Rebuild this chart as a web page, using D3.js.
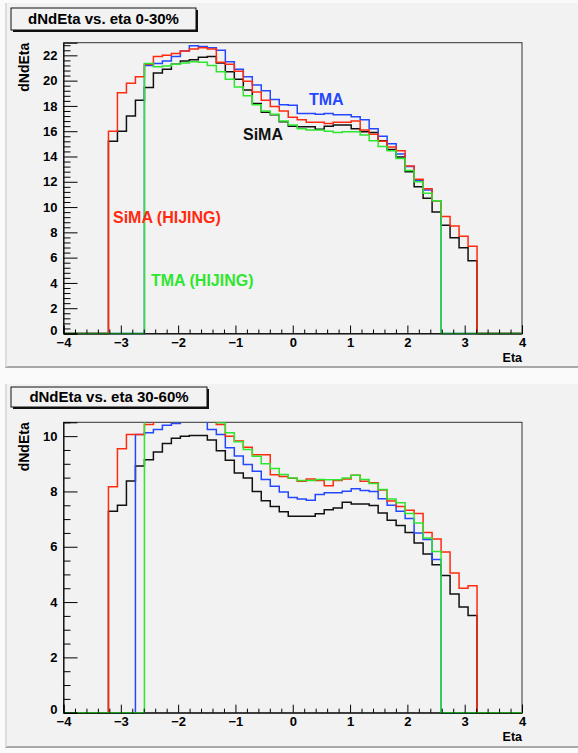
<!DOCTYPE html>
<html>
<head>
<meta charset="utf-8">
<script src="https://cdn.jsdelivr.net/npm/d3@7"></script>
<style>
  body { margin: 0; background: #fafafa; }
  svg { display: block; font-family: "Liberation Sans", Arial, sans-serif; }
</style>
</head>
<body>
<svg id="chart" width="578" height="753"></svg>
<script>
// histogram binning: 51 bins over eta -4..4, bin k = -25..25 (k = 0 is centred on eta 0)
const etaRange = [-4, 4];
const nBins = 51;

// tick labels
const xTicks = [-4, -3, -2, -1, 0, 1, 2, 3, 4];
const topYTicks = [0, 2, 4, 6, 8, 10, 12, 14, 16, 18, 20, 22];
const botYTicks = [0, 2, 4, 6, 8, 10];

// series names
const seriesNames = ["SiMA", "TMA", "SiMA (HIJING)", "TMA (HIJING)"];

// ---- centrality 0-30% ----
// SiMA, bins k = -20..20
const top_sima = [15.2, 16.0, 17.2, 18.45, 19.45, 20.6, 20.9, 21.3, 21.55, 21.65, 21.85, 21.9, 21.4, 20.7, 20.1, 19.25, 18.2, 17.5, 17.3, 16.75,
  16.4, 16.35, 16.35, 16.15, 16.4, 16.5, 16.5, 16.2, 15.95, 15.9, 15.25, 14.55, 13.95, 12.8, 11.6, 10.7, 9.6, 8.57, 7.57, 6.78, 5.75];
// TMA, bins k = -16..16
const top_tma = [21.2, 21.35, 21.55, 21.9, 22.35, 22.75, 22.7, 22.6, 22.4, 21.5, 20.9, 20.3, 19.65, 19.2, 18.5, 18.1,
  18.05, 17.4, 17.4, 17.35, 17.4, 17.3, 17.3, 17.15, 16.9, 16.2, 15.6, 15.0, 14.2, 13.2, 12.1, 11.35, 10.5];
// SiMA (HIJING), bins k = -20..20
const top_sima_hijing = [16.0, 19.05, 19.8, 20.3, 21.3, 21.9, 22.0, 22.15, 22.35, 22.5, 22.6, 22.5, 21.45, 21.3, 20.75, 19.95, 19.1, 18.45, 17.95, 17.6,
  17.1, 16.9, 16.7, 16.7, 16.6, 16.7, 16.7, 16.8, 16.1, 15.75, 15.2, 14.75, 14.45, 13.25, 12.2, 11.45, 10.5, 9.25, 8.5, 7.7, 6.9];
// TMA (HIJING), bins k = -16..16
const top_tma_hijing = [21.35, 21.1, 21.15, 21.3, 21.4, 21.5, 21.45, 21.2, 20.7, 20.1, 19.5, 18.8, 18.1, 17.6, 17.35, 16.8,
  16.5, 16.2, 16.1, 16.1, 16.0, 15.9, 15.95, 15.95, 15.7, 15.25, 14.8, 14.45, 13.85, 12.9, 12.0, 11.1, 10.5];

// ---- centrality 30-60% ----
// SiMA, bins k = -20..20
const bot_sima = [7.28, 7.5, 8.38, 8.92, 9.15, 9.43, 9.73, 9.92, 10.0, 10.02, 10.02, 9.86, 9.47, 9.13, 8.67, 8.49, 8.0, 7.66, 7.46, 7.27,
  7.1, 7.1, 7.1, 7.19, 7.34, 7.4, 7.61, 7.55, 7.55, 7.49, 7.22, 6.96, 6.77, 6.52, 6.14, 5.74, 5.35, 4.96, 4.29, 3.82, 3.51];
// TMA, bins k = -17..16
const bot_tma = [10.06, 10.12, 10.24, 10.39, 10.46, 10.6, 10.7, 10.6, 10.24, 10.06, 9.58, 9.28, 8.97, 8.73, 8.43, 8.19, 7.98,
  7.78, 7.73, 7.68, 7.89, 7.95, 7.95, 8.01, 8.1, 8.03, 8.0, 7.74, 7.5, 7.28, 7.02, 6.5, 6.26, 5.54];
// SiMA (HIJING), bins k = -20..20
const bot_sima_hijing = [8.17, 9.54, 10.06, 10.06, 10.42, 10.6, 10.7, 10.8, 10.8, 10.8, 10.7, 10.6, 10.42, 10.0, 9.82, 9.6, 9.33, 9.33, 8.6, 8.54,
  8.48, 8.37, 8.45, 8.4, 8.21, 8.4, 8.45, 8.59, 8.37, 8.31, 8.05, 7.65, 7.46, 7.32, 7.2, 6.52, 6.28, 5.81, 5.05, 4.5, 4.59];
// TMA (HIJING), bins k = -16..16
const bot_tma_hijing = [10.7, 10.8, 10.9, 10.9, 10.9, 10.8, 10.7, 10.6, 10.48, 10.12, 9.8, 9.52, 9.27, 9.0, 8.83, 8.61,
  8.49, 8.4, 8.4, 8.43, 8.42, 8.42, 8.49, 8.59, 8.43, 8.29, 8.07, 7.73, 7.59, 7.2, 6.86, 6.32, 5.83];

const colors = { "SiMA": "#111111", "TMA": "#2448ff", "SiMA (HIJING)": "#ff2a10", "TMA (HIJING)": "#2ee62e" };

const svg = d3.select("#chart");
const frameLeft = 63.5, frameRight = 522;

const panels = [
  {
    id: "top", title: "dNdEta vs. eta 0-30%", pad: [5, 3, 573, 364], box: [11, 8, 185, 22],
    frameTop: 42.7, frameBottom: 333.5, yMax: 23, yTicks: topYTicks, yMinorStep: 0.4,
    series: [
      { name: "SiMA", first: -20, values: top_sima },
      { name: "TMA", first: -16, values: top_tma },
      { name: "SiMA (HIJING)", first: -20, values: top_sima_hijing },
      { name: "TMA (HIJING)", first: -16, values: top_tma_hijing }
    ],
    labels: [
      { name: "TMA", x: 309, y: 105 },
      { name: "SiMA", x: 243, y: 140 },
      { name: "SiMA (HIJING)", x: 113, y: 223 },
      { name: "TMA (HIJING)", x: 151, y: 286 }
    ]
  },
  {
    id: "bot", title: "dNdEta vs. eta 30-60%", pad: [5, 384, 573, 363], box: [11, 387, 196, 20],
    frameTop: 422.3, frameBottom: 712.7, yMax: 10.5, yTicks: botYTicks, yMinorStep: 0.5,
    series: [
      { name: "SiMA", first: -20, values: bot_sima },
      { name: "TMA", first: -17, values: bot_tma },
      { name: "SiMA (HIJING)", first: -20, values: bot_sima_hijing },
      { name: "TMA (HIJING)", first: -16, values: bot_tma_hijing }
    ],
    labels: []
  }
];

const binWidth = (etaRange[1] - etaRange[0]) / nBins;

panels.forEach(p => {
  const g = svg.append("g");

  // pad
  g.append("rect").attr("x", p.pad[0]).attr("y", p.pad[1]).attr("width", p.pad[2]).attr("height", p.pad[3])
    .attr("fill", "#f2f2f2");
  g.append("line").attr("x1", p.pad[0]).attr("x2", p.pad[0] + p.pad[2]).attr("y1", p.pad[1] + p.pad[3]).attr("y2", p.pad[1] + p.pad[3])
    .attr("stroke", "#a8a8a8").attr("stroke-width", 2);
  g.append("line").attr("x1", p.pad[0] + 1).attr("x2", p.pad[0] + 1).attr("y1", p.pad[1]).attr("y2", p.pad[1] + p.pad[3])
    .attr("stroke", "#dcdcdc").attr("stroke-width", 2);

  const x = d3.scaleLinear().domain(etaRange).range([frameLeft, frameRight]);
  const y = d3.scaleLinear().domain([0, p.yMax]).range([p.frameBottom, p.frameTop]);

  // frame
  g.append("rect").attr("x", frameLeft).attr("y", p.frameTop)
    .attr("width", frameRight - frameLeft).attr("height", p.frameBottom - p.frameTop)
    .attr("fill", "none").attr("stroke", "#333").attr("stroke-width", 1);

  // histograms, clipped to the frame
  const clipId = "clip-" + p.id;
  svg.append("clipPath").attr("id", clipId).append("rect")
    .attr("x", frameLeft - 1).attr("y", p.frameTop).attr("width", frameRight - frameLeft + 2).attr("height", p.frameBottom - p.frameTop + 2);

  const line = d3.line().x(d => x(d[0])).y(d => y(d[1])).curve(d3.curveStepAfter);
  p.series.forEach(s => {
    const pts = [];
    for (let i = 0; i < nBins; i++) {
      const k = i - 25;
      const j = k - s.first;
      const v = (j >= 0 && j < s.values.length) ? s.values[j] : 0;
      pts.push([etaRange[0] + i * binWidth, v]);
    }
    pts.push([etaRange[1], pts[pts.length - 1][1]]);
    g.append("path").datum(pts)
      .attr("clip-path", `url(#${clipId})`)
      .attr("fill", "none")
      .attr("stroke", colors[s.name])
      .attr("stroke-width", 1.5)
      .attr("d", line);
  });

  // y axis
  const yMinor = d3.range(0, p.yMax + 1e-6, p.yMinorStep).filter(v => Math.abs(v / 2 - Math.round(v / 2)) > 1e-6);
  g.append("g").attr("transform", `translate(${frameLeft},0)`)
    .call(d3.axisLeft(y).tickValues(yMinor).tickSize(-7).tickFormat(""))
    .call(a => a.select(".domain").remove());
  const yAx = g.append("g").attr("transform", `translate(${frameLeft},0)`)
    .call(d3.axisLeft(y).tickValues(p.yTicks).tickSize(-14).tickPadding(6).tickFormat(d3.format("d")));
  yAx.select(".domain").attr("stroke", "#000");
  yAx.selectAll("text").style("font-size", "13px").style("font-weight", "bold").attr("fill", "#000");
  // keep the "0" label clear of the "-4" label below it
  yAx.selectAll("text").filter(d => d === 0).attr("dy", "0.05em");

  // x axis
  const xMinor = d3.range(-4, 4.0001, 0.2).filter(v => Math.abs(v - Math.round(v)) > 1e-6);
  g.append("g").attr("transform", `translate(0,${p.frameBottom})`)
    .call(d3.axisBottom(x).tickValues(xMinor).tickSize(-4).tickFormat(""))
    .call(a => a.select(".domain").remove());
  const xAx = g.append("g").attr("transform", `translate(0,${p.frameBottom})`)
    .call(d3.axisBottom(x).tickValues(xTicks).tickSize(-8).tickPadding(4).tickFormat(d3.format("d")));
  xAx.select(".domain").attr("stroke", "#000");
  xAx.selectAll("text").style("font-size", "13px").style("font-weight", "bold").attr("fill", "#000");

  // axis titles
  g.append("text").attr("x", frameRight).attr("y", p.frameBottom + 28)
    .attr("text-anchor", "end").style("font-size", "12.5px").style("font-weight", "bold").text("Eta");
  g.append("text").attr("transform", `translate(29,${p.frameTop}) rotate(-90)`)
    .attr("text-anchor", "end").style("font-size", "14px").style("font-weight", "bold").text("dNdEta");

  // title box
  const b = p.box;
  g.append("rect").attr("x", b[0] + 2).attr("y", b[1] + 2).attr("width", b[2]).attr("height", b[3]).attr("fill", "#111");
  g.append("rect").attr("x", b[0]).attr("y", b[1]).attr("width", b[2]).attr("height", b[3])
    .attr("fill", "#f2f2f2").attr("stroke", "#111").attr("stroke-width", 1);
  g.append("text").attr("x", b[0] + b[2] / 2).attr("y", b[1] + b[3] / 2 + 5)
    .attr("text-anchor", "middle").style("font-size", "15px").style("font-weight", "bold").text(p.title);

  // in-plot labels
  g.selectAll(".lab").data(p.labels).enter().append("text")
    .attr("x", d => d.x).attr("y", d => d.y)
    .attr("fill", d => colors[d.name])
    .style("font-size", "16px").style("font-weight", "bold")
    .text(d => d.name);
});
</script>
</body>
</html>
